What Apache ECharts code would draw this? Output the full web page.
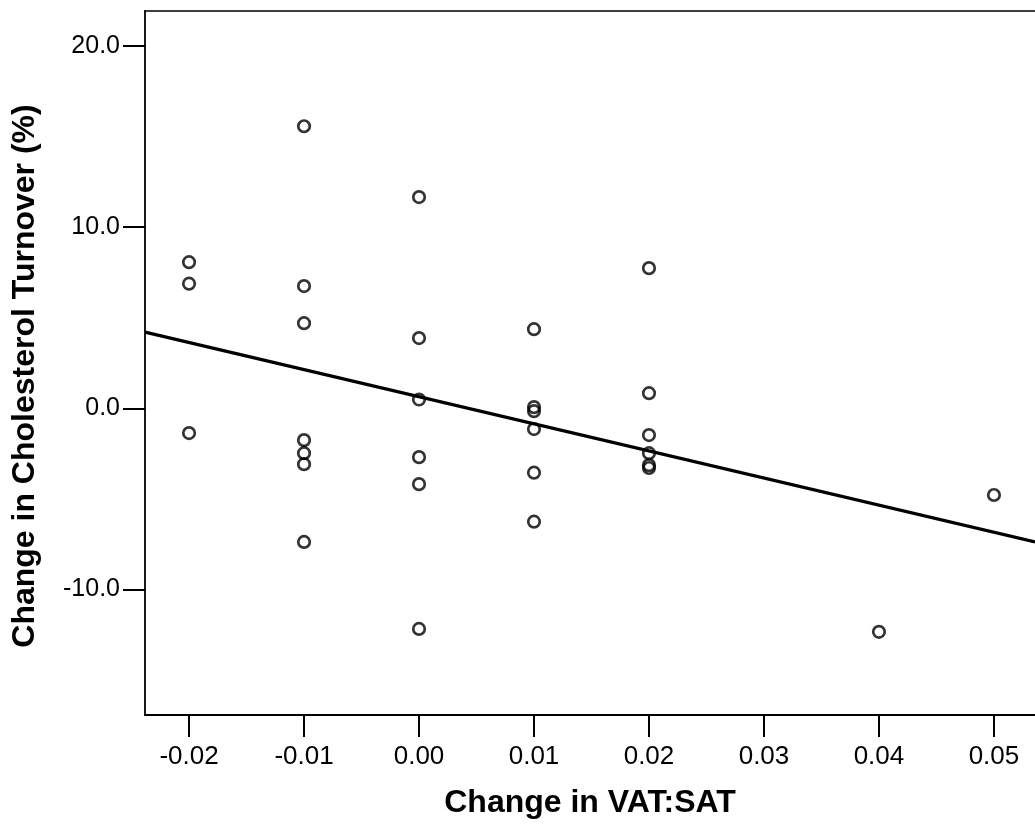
<!DOCTYPE html>
<html>
<head>
<meta charset="utf-8">
<script src="https://cdn.jsdelivr.net/npm/echarts@6/dist/echarts.min.js"></script>
<style>html,body{margin:0;padding:0;background:#fff}#c{width:1035px;height:827px}</style>
</head>
<body>
<div id="c"></div>
<script>
// Data
const xVals = [-0.02,-0.02,-0.02,
  -0.01,-0.01,-0.01,-0.01,-0.01,-0.01,-0.01,
  0.00,0.00,0.00,0.00,0.00,0.00,
  0.01,0.01,0.01,0.01,0.01,0.01,
  0.02,0.02,0.02,0.02,0.02,0.02,
  0.04,0.05];
const yVals = [8.07,6.88,-1.36,
  15.57,6.75,4.70,-1.75,-2.47,-3.08,-7.37,
  11.66,3.88,0.49,-2.69,-4.18,-12.17,
  4.37,0.07,-0.15,-1.14,-3.55,-6.25,
  7.74,0.84,-1.47,-2.47,-3.13,-3.29,
  -12.33,-4.78];
// Fit line endpoints
const fitX = [-0.02383, 0.05357];
const fitY = [4.21, -7.37];
const xTicks = [-0.02,-0.01,0.00,0.01,0.02,0.03,0.04,0.05];
const yTicks = [-10,0,10,20];
const xMin = -0.02383, xMax = 0.05357;
const yMin = -16.92, yMax = 21.93;

const pts = xVals.map((x,i)=>[x,yVals[i]]);
const fit = fitX.map((x,i)=>[x,fitY[i]]);
const font = '"Liberation Sans", Arial, sans-serif';
const chart = echarts.init(document.getElementById('c'));
chart.setOption({
  animation:false,
  backgroundColor:'#fff',
  grid:{left:145,top:11,right:0,bottom:112,show:false},
  xAxis:[{
    type:'value',min:xMin,max:xMax,
    name:'Change in VAT:SAT',nameLocation:'middle',nameGap:72,
    nameTextStyle:{fontFamily:font,fontSize:32,fontWeight:'bold',color:'#000'},
    axisLine:{show:true,onZero:false,lineStyle:{color:'#000',width:1.8}},
    axisTick:{show:true,length:22,customValues:xTicks,lineStyle:{color:'#000',width:2}},
    axisLabel:{customValues:xTicks,margin:29,fontFamily:font,fontSize:26,color:'#000',
      formatter:v=>v.toFixed(2)},
    splitLine:{show:false}
  },{
    type:'value',position:'top',min:xMin,max:xMax,
    axisLine:{show:true,onZero:false,lineStyle:{color:'#000',width:1.5}},
    axisTick:{show:false},axisLabel:{show:false},splitLine:{show:false}
  }],
  yAxis:{
    type:'value',min:yMin,max:yMax,
    name:'Change in Cholesterol Turnover (%)',nameLocation:'middle',nameGap:104,
    nameTextStyle:{fontFamily:font,fontSize:32,fontWeight:'bold',color:'#000',padding:[0,26,0,0]},
    axisLine:{show:true,onZero:false,lineStyle:{color:'#000',width:1.8}},
    axisTick:{show:true,length:22,customValues:yTicks,lineStyle:{color:'#000',width:2}},
    axisLabel:{customValues:yTicks,margin:25,fontFamily:font,fontSize:25,color:'#000',
      formatter:v=>v.toFixed(1)},
    splitLine:{show:false}
  },
  series:[{
    type:'line',data:fit,symbol:'none',
    lineStyle:{color:'#000',width:3.2},z:2
  },{
    type:'scatter',data:pts,symbol:'circle',symbolSize:11.5,
    itemStyle:{color:'rgba(255,255,255,0)',borderColor:'#000',borderWidth:2.7},z:3
  }]
});
</script>
</body>
</html>
